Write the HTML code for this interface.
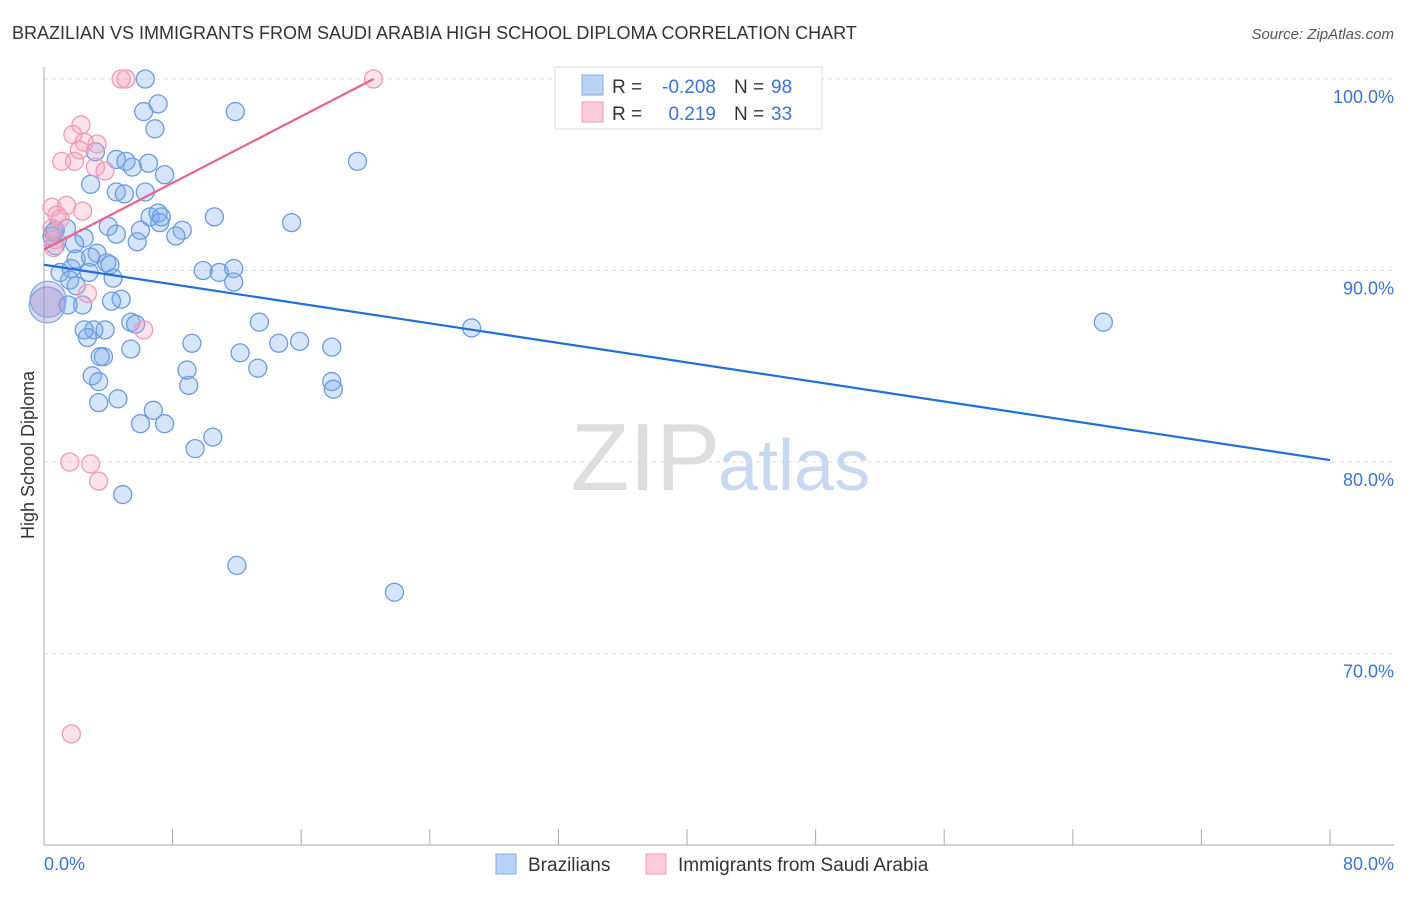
<!DOCTYPE html>
<html><head><meta charset="utf-8"><style>
body{margin:0;background:#fff;font-family:"Liberation Sans",sans-serif;}
svg text{font-family:"Liberation Sans",sans-serif;}
</style></head><body>
<svg id="chart" width="1406" height="892" xmlns="http://www.w3.org/2000/svg">
<text x="12" y="39" font-size="18" fill="#333">BRAZILIAN VS IMMIGRANTS FROM SAUDI ARABIA HIGH SCHOOL DIPLOMA CORRELATION CHART</text>
<text x="1394" y="39" font-size="15" fill="#555" text-anchor="end" font-style="italic">Source: ZipAtlas.com</text>
<text x="720" y="490" font-size="96" fill="#ddd" text-anchor="end" font-family="Liberation Serif">ZIP</text>
<text x="718" y="490" font-size="72" fill="#c8d8f0">atlas</text>
<g id="grid"></g>
<g id="axes"></g>
<g id="points"></g>
<g id="lines"></g>
<text transform="translate(34,455) rotate(-90)" font-size="18" fill="#333" text-anchor="middle">High School Diploma</text>
<text x="44" y="870" font-size="18" fill="#3a73d4">0.0%</text>
<text x="1394" y="870" font-size="18" fill="#3a73d4" text-anchor="end">80.0%</text>
<g>
<rect x="555" y="67" width="267" height="62" fill="#fff" stroke="#ddd"/>
<rect x="582" y="75" width="21" height="20" fill="#b8d3f5" stroke="#80aee8"/>
<rect x="582" y="102" width="21" height="20" fill="#fbcbd9" stroke="#f09ab5"/>
<text x="612" y="93" font-size="19" fill="#333">R =</text>
<text x="716" y="93" font-size="19" fill="#3a73d4" text-anchor="end">-0.208</text>
<text x="734" y="93" font-size="19" fill="#333">N =</text>
<text x="771" y="93" font-size="19" fill="#3a73d4">98</text>
<text x="612" y="120" font-size="19" fill="#333">R =</text>
<text x="716" y="120" font-size="19" fill="#3a73d4" text-anchor="end">0.219</text>
<text x="734" y="120" font-size="19" fill="#333">N =</text>
<text x="771" y="120" font-size="19" fill="#3a73d4">33</text>
</g>
<g>
<rect x="496" y="854" width="20" height="20" fill="#b8d3f5" stroke="#80aee8"/>
<text x="528" y="871" font-size="19" fill="#333">Brazilians</text>
<rect x="646" y="854" width="20" height="20" fill="#fbcbd9" stroke="#f09ab5"/>
<text x="678" y="871" font-size="19" fill="#333">Immigrants from Saudi Arabia</text>
</g>
</svg>
<script>
const yTicks=[100,90,80,70];
const blueX=[6.3,6.2,7.1,11.9,6.9,3.2,4.5,5.1,6.5,5.5,19.5,7.5,2.9,4.5,5.0,6.3,6.6,7.1,7.3,7.2,10.6,15.4,4.0,4.5,6.0,8.6,8.2,5.8,0.7,1.4,2.5,1.9,0.7,3.3,2.0,2.9,3.9,4.1,1.7,1.0,2.8,9.9,10.9,11.8,11.8,4.3,1.6,2.0,4.8,4.2,2.4,1.5,13.4,5.4,5.7,3.8,3.1,2.5,2.7,26.6,65.9,5.4,9.2,12.2,14.6,15.9,17.9,3.7,3.5,8.9,13.3,3.0,3.4,9.0,17.9,18.0,4.6,3.4,6.8,6.0,7.5,10.5,9.4,4.9,12.0,21.8,0.5,0.6];
const blueY=[100,98.3,98.7,98.3,97.4,96.2,95.8,95.7,95.6,95.4,95.7,95.0,94.5,94.1,94.0,94.1,92.8,93.0,92.8,92.5,92.8,92.5,92.3,91.9,92.1,92.1,91.8,91.5,92.1,92.2,91.7,91.4,91.3,90.9,90.6,90.7,90.4,90.3,90.1,89.9,89.9,90.0,89.9,90.1,89.4,89.6,89.5,89.2,88.5,88.4,88.2,88.2,87.3,87.3,87.2,86.9,86.9,86.9,86.5,87.0,87.3,85.9,86.2,85.7,86.2,86.3,86.0,85.5,85.5,84.8,84.9,84.5,84.2,84.0,84.2,83.8,83.3,83.1,82.7,82.0,82.0,81.3,80.7,78.3,74.6,73.2,91.8,92.0];
const pinkX=[4.8,5.1,20.5,2.3,1.8,3.3,2.5,2.2,1.9,1.1,3.2,3.8,1.4,0.5,2.4,0.8,1.0,0.5,2.7,6.2,1.6,2.9,3.4,1.7,0.7,0.6];
const pinkY=[100,100,100,97.6,97.1,96.6,96.7,96.3,95.7,95.7,95.4,95.2,93.4,93.3,93.1,92.9,92.7,92.2,88.8,86.9,80.0,79.9,79.0,65.8,91.6,91.2];
const bigX=[0.2,0.25];
const bigY=[88.2,88.5];
const blueLine=[[0,90.3],[80,80.1]];
const pinkLine=[[0,91.1],[20.5,100]];
const X=v=>44+v/80*1286;
const Y=v=>79+(100-v)*19.15;
const NS='http://www.w3.org/2000/svg';
function mk(parent,tag,attrs){const e=document.createElementNS(NS,tag);for(const k in attrs)e.setAttribute(k,attrs[k]);document.getElementById(parent).appendChild(e);return e;}
yTicks.forEach(t=>{
  const l=mk('grid','line',{x1:44,x2:1394,y1:Y(t),y2:Y(t),stroke:'#ddd','stroke-dasharray':'4,4'});
  
  
  const tx=mk('grid','text',{x:1394,y:Y(t)+24,'font-size':18,fill:'#3a73d4','text-anchor':'end'});
  tx.textContent=t.toFixed(1)+'%';
  
  
});
const ax=mk('axes','line',{x1:44,x2:44,y1:67,y2:845,stroke:'#aaa'});


const bx=mk('axes','line',{x1:44,x2:1394,y1:845,y2:845,stroke:'#aaa'});


for(let i=0;i<=10;i++){const tk=mk('axes','line',{x1:X(i*8),x2:X(i*8),y1:829,y2:845,stroke:'#aaa'});
  
  }
blueX.forEach((x,i)=>{const c=mk('points','circle',{cx:X(x),cy:Y(blueY[i]),r:9,fill:'rgba(120,170,235,0.3)',stroke:'#6b9be0','stroke-width':1.3});
  
  });
pinkX.forEach((x,i)=>{const c=mk('points','circle',{cx:X(x),cy:Y(pinkY[i]),r:9,fill:'rgba(245,160,190,0.3)',stroke:'#f09ab5','stroke-width':1.3});
  
  });
bigX.forEach((x,i)=>{const c=mk('points','circle',{cx:X(x),cy:Y(bigY[i]),r:18,fill:'rgba(150,140,210,0.35)',stroke:'#8aa8e0','stroke-width':1.3});
  
  });
const bl=mk('lines','line',{x1:X(blueLine[0][0]),y1:Y(blueLine[0][1]),x2:X(blueLine[1][0]),y2:Y(blueLine[1][1]),stroke:'#1f6fd8','stroke-width':2.2});


const pl=mk('lines','line',{x1:X(pinkLine[0][0]),y1:Y(pinkLine[0][1]),x2:X(pinkLine[1][0]),y2:Y(pinkLine[1][1]),stroke:'#e8608c','stroke-width':2.2});


</script>
</body></html>
